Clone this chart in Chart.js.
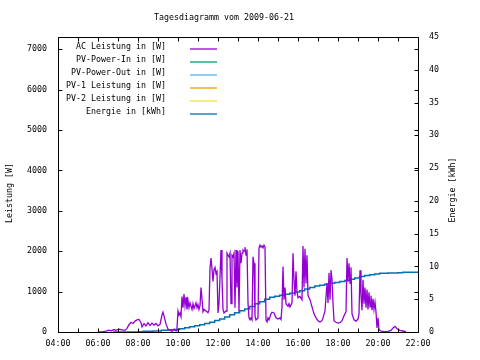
<!doctype html>
<html lang="de">
<head>
<meta charset="utf-8">
<title>Tagesdiagramm</title>
<script src="https://cdn.jsdelivr.net/npm/chart.js@4.4.0/dist/chart.umd.min.js"></script>
<style>
  html, body { margin: 0; padding: 0; background: #fff; }
  canvas { display: block; }
</style>
</head>
<body>
<canvas id="chart" width="480" height="360"></canvas>
<script>
// Werte
var titel = 'Tagesdiagramm vom 2009-06-21';
var namen = ['AC Leistung in [W]', 'PV-Power-In in [W]', 'PV-Power-Out in [W]',
             'PV-1 Leistung in [W]', 'PV-2 Leistung in [W]', 'Energie in [kWh]'];
var farben = ['#9400d3', '#009e73', '#56b4e9', '#e69f00', '#f0e442', '#0072b2'];

var acZeit = ['06:00','06:12','06:24','06:33','06:39','06:48','06:54','07:03','07:12','07:21','07:27','07:33','07:39','07:45','07:51','07:57',
  '08:03','08:09','08:12','08:18','08:24','08:30','08:36','08:42','08:48','08:54','09:00','09:06','09:12','09:15','09:21','09:24','09:30','09:36','09:42','09:48','09:54','09:57',
  '10:00','10:03','10:06','10:09','10:12','10:15','10:18','10:21','10:24','10:27','10:30','10:33','10:36','10:42','10:45','10:48','10:54','10:57',
  '11:00','11:03','11:06','11:09','11:12','11:15','11:18','11:24','11:30','11:33','11:36','11:39','11:42','11:45','11:48','11:51','11:54','11:57',
  '12:00','12:03','12:09','12:12','12:15','12:18','12:24','12:27','12:30','12:33','12:36','12:39','12:42','12:45','12:48','12:51','12:54','12:57',
  '13:00','13:03','13:06','13:09','13:12','13:15','13:18','13:21','13:24','13:27','13:30','13:33','13:36','13:39','13:42','13:45','13:48','13:51','13:54',
  '14:00','14:03','14:06','14:09','14:12','14:15','14:18','14:21','14:24','14:27','14:30','14:33','14:39','14:42','14:48','14:54',
  '15:00','15:06','15:09','15:12','15:15','15:18','15:21','15:24','15:30','15:33','15:36','15:42','15:45','15:48','15:51','15:54','15:57',
  '16:00','16:06','16:12','16:15','16:18','16:21','16:24','16:27','16:30','16:36','16:42','16:48','16:54',
  '17:00','17:06','17:12','17:15','17:21','17:27','17:30','17:33','17:36','17:39','17:42','17:45','17:48','17:54',
  '18:00','18:06','18:12','18:18','18:24','18:27','18:30','18:33','18:36','18:39','18:42','18:48','18:54',
  '19:00','19:03','19:06','19:09','19:12','19:15','19:18','19:21','19:24','19:27','19:30','19:33','19:36','19:39','19:42','19:45','19:48','19:51','19:54','19:57',
  '20:00','20:03','20:09','20:18','20:30','20:39','20:45','20:51','20:57','21:06','21:15','21:24'];
var acWatt = [0,5,20,45,30,60,40,70,55,40,90,180,240,210,270,300,
  310,230,130,210,150,230,160,220,170,210,150,190,420,490,300,200,70,40,20,70,30,100,
  520,420,470,380,880,600,940,650,860,560,780,600,720,560,700,580,720,600,
  680,560,650,1100,820,500,560,520,480,540,1580,1830,1560,1250,1550,1600,1450,1500,
  470,700,2030,1300,560,470,520,1950,1900,1860,1950,700,1900,1860,1950,600,2030,1100,
  2000,500,2030,1700,1950,2030,2000,2100,1900,2050,720,350,300,350,300,1860,1700,400,300,
  350,2080,2150,2100,2130,2080,2150,2100,300,250,350,300,450,490,470,350,
  320,350,310,620,1620,800,1100,700,640,700,620,720,1950,1300,900,1500,1000,
  850,880,800,2130,1100,2060,1200,1900,900,800,620,450,350,
  280,250,280,350,520,1210,720,1460,800,1530,1300,720,280,240,
  220,230,280,400,500,1830,1250,1700,1210,1600,450,300,270,
  320,450,1530,900,540,1290,700,1100,600,1050,560,980,620,900,540,820,560,740,500,100,
  350,60,20,10,15,40,100,140,80,40,25,10];

var energieZeit = ['06:45','07:30','08:00','08:15','08:45','09:10','09:30','09:50','10:05','10:20','10:35','10:50',
  '11:05','11:20','11:35','11:50','12:05','12:20','12:35','12:50','13:05','13:20','13:35','13:50',
  '14:05','14:20','14:35','14:50','15:05','15:20','15:35','15:50','16:05','16:20','16:35','16:50',
  '17:05','17:20','17:35','17:50','18:05','18:20','18:35','18:50','19:05','19:20','19:35','19:50',
  '20:05','20:30','21:00','21:15','22:00'];
var energieKwh = [0,0,0.05,0.1,0.15,0.25,0.35,0.4,0.5,0.65,0.8,0.95,
  1.1,1.3,1.5,1.75,2.0,2.3,2.65,2.95,3.25,3.5,3.9,4.3,
  4.6,5.0,5.3,5.45,5.6,5.75,5.9,6.1,6.3,6.55,6.8,7.0,
  7.15,7.3,7.45,7.55,7.7,7.85,8.05,8.25,8.45,8.6,8.75,8.85,
  8.95,9.0,9.05,9.1,9.15];

var stundenTicks = [4,5,6,7,8,9,10,11,12,13,14,15,16,17,18,19,20,21,22];
var stundenLabels = [4,6,8,10,12,14,16,18,20,22];
var leistungTicks = [0,1000,2000,3000,4000,5000,6000,7000];
var energieTicks = [0,5,10,15,20,25,30,35,40,45];

var schrift = '"DejaVu Sans Mono", "Liberation Mono", monospace';

function stunden(s) {
  var p = s.split(':');
  return Number(p[0]) + Number(p[1]) / 60;
}
function punkte(zeiten, werte) {
  var r = [];
  for (var i = 0; i < zeiten.length; i++) r.push({ x: stunden(zeiten[i]), y: werte[i] });
  return r;
}
function festeTicks(liste) {
  return function (s) { s.ticks = liste.map(function (v) { return { value: v }; }); };
}

// Titel, Rahmen, Tics nach innen, Legende und Achsentitel wie bei gnuplot
var gnuplotStil = {
  id: 'gnuplotStil',
  afterDraw: function (chart) {
    var c = chart.ctx, a = chart.chartArea;
    var sx = chart.scales.x, sy = chart.scales.y, sy2 = chart.scales.y2;
    var L = Math.round(a.left) + 0.5, R = Math.round(a.right) + 0.5;
    var T = Math.round(a.top) + 0.5, B = Math.round(a.bottom) + 0.5;
    c.save();
    c.strokeStyle = '#000';
    c.lineWidth = 1;
    c.beginPath();
    c.rect(L, T, R - L, B - T);
    stundenTicks.forEach(function (h) {
      var x = Math.round(sx.getPixelForValue(h)) + 0.5;
      c.moveTo(x, B); c.lineTo(x, B - 4);
      c.moveTo(x, T); c.lineTo(x, T + 4);
    });
    leistungTicks.forEach(function (v) {
      var y = Math.round(sy.getPixelForValue(v)) + 0.5;
      c.moveTo(L, y); c.lineTo(L + 4, y);
      c.moveTo(R, y); c.lineTo(R - 4, y);
    });
    energieTicks.forEach(function (v) {
      var y = Math.round(sy2.getPixelForValue(v)) + 0.5;
      c.moveTo(R, y); c.lineTo(R - 4, y);
    });
    c.stroke();

    c.font = '8.3px ' + schrift;
    c.fillStyle = '#000';
    c.textBaseline = 'middle';

    c.textAlign = 'center';
    c.fillText(titel, 224, 18);

    c.textAlign = 'right';
    chart.data.datasets.forEach(function (ds, i) {
      var y = 47 + 13 * i;
      c.fillText(ds.label, 166, y);
      c.strokeStyle = ds.borderColor;
      c.lineWidth = 1.3;
      c.beginPath();
      c.moveTo(190, y + 2); c.lineTo(217, y + 2);
      c.stroke();
    });

    c.textAlign = 'center';
    c.save();
    c.translate(10, 193);
    c.rotate(-Math.PI / 2);
    c.fillText('Leistung [W]', 0, 0);
    c.restore();
    c.save();
    c.translate(453, 190);
    c.rotate(-Math.PI / 2);
    c.fillText('Energie [kWh]', 0, 0);
    c.restore();
    c.restore();
  }
};

var datensaetze = [];
for (var i = 0; i < namen.length; i++) {
  datensaetze.push({
    label: namen[i],
    data: [],
    borderColor: farben[i],
    backgroundColor: farben[i],
    borderWidth: 1.3,
    pointRadius: 0,
    fill: false,
    yAxisID: 'y'
  });
}
datensaetze[0].data = punkte(acZeit, acWatt);
datensaetze[5].data = punkte(energieZeit, energieKwh);
datensaetze[5].yAxisID = 'y2';
datensaetze[5].stepped = true;
datensaetze[5].borderWidth = 1.5;

var tickFont = { family: schrift, size: 8.3 };

new Chart(document.getElementById('chart').getContext('2d'), {
  type: 'line',
  data: { datasets: datensaetze },
  options: {
    responsive: false,
    animation: false,
    layout: { padding: { top: 37 } },
    plugins: {
      legend: { display: false },
      tooltip: { enabled: false },
      title: { display: false }
    },
    scales: {
      x: {
        type: 'linear',
        min: 4, max: 22,
        grid: { display: false, drawTicks: false },
        border: { display: false },
        afterBuildTicks: festeTicks(stundenLabels),
        ticks: {
          padding: 7,
          maxRotation: 0,
          autoSkip: false,
          color: '#000',
          font: tickFont,
          callback: function (v) { return (v < 10 ? '0' : '') + v + ':00'; }
        },
        afterFit: function (s) { s.height = 28; }
      },
      y: {
        position: 'left',
        min: 0, max: 7300,
        grid: { display: false, drawTicks: false },
        border: { display: false },
        afterBuildTicks: festeTicks(leistungTicks),
        ticks: { autoSkip: false, padding: 11, color: '#000', font: tickFont,
                 callback: function (v) { return String(v); } },
        afterFit: function (s) { s.width = 58; }
      },
      y2: {
        position: 'right',
        min: 0, max: 45,
        grid: { display: false, drawTicks: false },
        border: { display: false },
        afterBuildTicks: festeTicks(energieTicks),
        ticks: { autoSkip: false, padding: 11, color: '#000', font: tickFont,
                 callback: function (v) { return String(v); } },
        afterFit: function (s) { s.width = 62; }
      }
    }
  },
  plugins: [gnuplotStil]
});
</script>
</body>
</html>
